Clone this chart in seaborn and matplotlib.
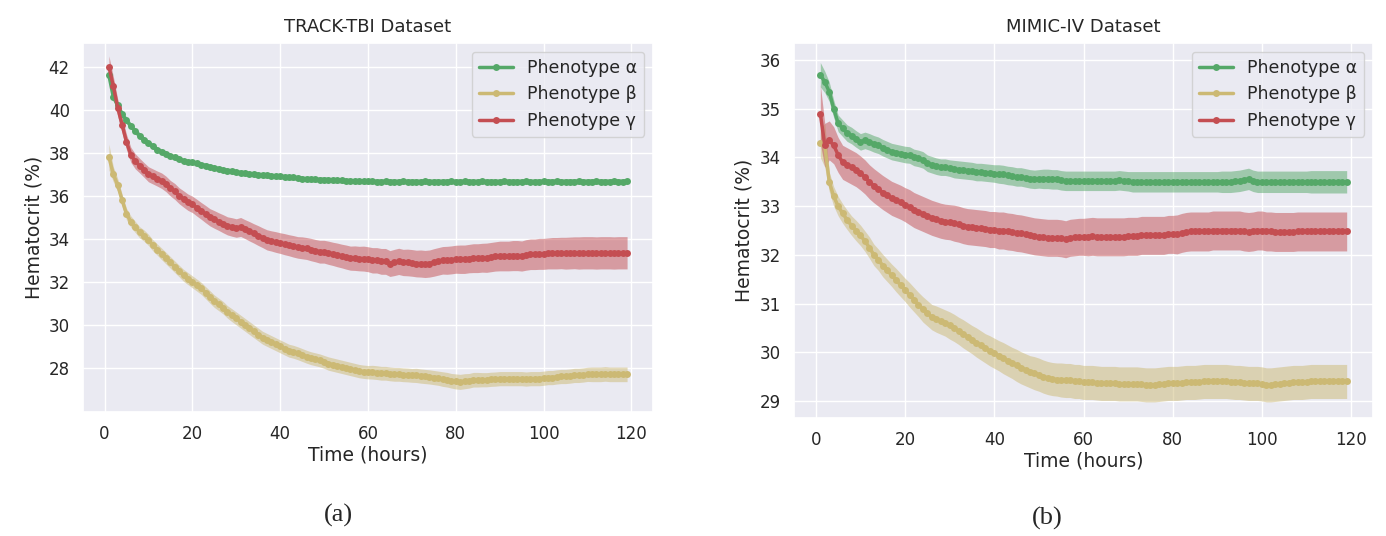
import numpy as np
import pandas as pd
import matplotlib
matplotlib.use("Agg")
import matplotlib.pyplot as plt
import seaborn as sns

hours = list(range(1, 120))
phenotypes = ["Phenotype α", "Phenotype β", "Phenotype γ"]
colors = ["#55A868", "#CCB974", "#C44E52"]

# ---------------- TRACK-TBI ----------------
tbi_alpha = [
    41.6, 40.6, 40.2, 39.8, 39.5, 39.25, 39.0, 38.8, 38.6, 38.45,
    38.3, 38.15, 38.05, 37.95, 37.85, 37.78, 37.7, 37.62, 37.58, 37.55,
    37.5, 37.45, 37.4, 37.35, 37.3, 37.25, 37.2, 37.17, 37.13, 37.1,
    37.07, 37.04, 37.02, 37.0, 36.98, 36.96, 36.95, 36.93, 36.91, 36.9,
    36.88, 36.86, 36.85, 36.83, 36.8, 36.78, 36.77, 36.76, 36.75, 36.75,
    36.74, 36.73, 36.72, 36.71, 36.7, 36.69, 36.68, 36.68, 36.67, 36.67,
    36.67, 36.66, 36.66, 36.67, 36.66, 36.66, 36.66, 36.67, 36.66, 36.66,
    36.66, 36.66, 36.67, 36.66, 36.66, 36.66, 36.66, 36.66, 36.67, 36.66,
    36.66, 36.67, 36.66, 36.66, 36.66, 36.67, 36.66, 36.66, 36.66, 36.66,
    36.67, 36.66, 36.66, 36.66, 36.66, 36.67, 36.66, 36.66, 36.66, 36.67,
    36.66, 36.66, 36.67, 36.66, 36.66, 36.66, 36.66, 36.67, 36.66, 36.66,
    36.66, 36.67, 36.66, 36.66, 36.66, 36.67, 36.66, 36.66, 36.67]
tbi_alpha_hw = [
    0.25, 0.2, 0.18, 0.17, 0.16, 0.15, 0.15, 0.14, 0.14, 0.14,
    0.14, 0.13, 0.13, 0.13, 0.13, 0.13, 0.13, 0.13, 0.13, 0.13,
    0.13, 0.13, 0.13, 0.13, 0.13, 0.13, 0.13, 0.13, 0.13, 0.13,
    0.13, 0.13, 0.13, 0.13, 0.13, 0.13, 0.13, 0.13, 0.13, 0.13,
    0.13, 0.13, 0.13, 0.13, 0.13, 0.13, 0.13, 0.13, 0.13, 0.13,
    0.13, 0.13, 0.13, 0.13, 0.13, 0.13, 0.13, 0.13, 0.13, 0.13,
    0.13, 0.13, 0.13, 0.13, 0.13, 0.13, 0.13, 0.13, 0.13, 0.13,
    0.13, 0.13, 0.13, 0.13, 0.13, 0.13, 0.13, 0.13, 0.13, 0.13,
    0.13, 0.13, 0.13, 0.13, 0.13, 0.13, 0.13, 0.13, 0.13, 0.13,
    0.13, 0.13, 0.13, 0.13, 0.13, 0.13, 0.13, 0.13, 0.13, 0.13,
    0.14, 0.14, 0.14, 0.14, 0.14, 0.14, 0.14, 0.14, 0.14, 0.14,
    0.14, 0.14, 0.14, 0.14, 0.14, 0.14, 0.14, 0.14, 0.14]
tbi_beta = [
    37.8, 37.0, 36.5, 35.8, 35.15, 34.8, 34.55, 34.3, 34.15, 33.95,
    33.7, 33.5, 33.3, 33.1, 32.9, 32.7, 32.5, 32.3, 32.15, 32.0,
    31.85, 31.7, 31.5, 31.3, 31.1, 30.95, 30.8, 30.6, 30.45, 30.3,
    30.15, 30.0, 29.85, 29.7, 29.55, 29.4, 29.3, 29.2, 29.1, 29.0,
    28.9, 28.8, 28.75, 28.68, 28.6, 28.52, 28.45, 28.4, 28.35, 28.28,
    28.2, 28.15, 28.1, 28.05, 28.0, 27.95, 27.9, 27.85, 27.82, 27.8,
    27.8, 27.78, 27.75, 27.75, 27.72, 27.7, 27.7, 27.68, 27.67, 27.65,
    27.65, 27.62, 27.6, 27.58, 27.55, 27.52, 27.48, 27.45, 27.4, 27.37,
    27.35, 27.38, 27.4, 27.45, 27.45, 27.45, 27.45, 27.47, 27.48, 27.5,
    27.5, 27.5, 27.5, 27.5, 27.5, 27.48, 27.5, 27.5, 27.5, 27.52,
    27.55, 27.55, 27.58, 27.6, 27.6, 27.62, 27.65, 27.65, 27.67, 27.7,
    27.7, 27.7, 27.7, 27.72, 27.7, 27.7, 27.7, 27.7, 27.7]
tbi_beta_hw = [
    0.6, 0.35, 0.3, 0.28, 0.27, 0.26, 0.26, 0.26, 0.26, 0.26,
    0.26, 0.26, 0.27, 0.27, 0.27, 0.27, 0.27, 0.28, 0.28, 0.28,
    0.28, 0.28, 0.28, 0.29, 0.29, 0.29, 0.29, 0.29, 0.3, 0.3,
    0.3, 0.3, 0.3, 0.3, 0.3, 0.3, 0.3, 0.3, 0.3, 0.3,
    0.3, 0.3, 0.3, 0.3, 0.3, 0.3, 0.3, 0.3, 0.3, 0.3,
    0.31, 0.31, 0.31, 0.31, 0.31, 0.31, 0.31, 0.31, 0.31, 0.31,
    0.32, 0.32, 0.32, 0.32, 0.32, 0.32, 0.32, 0.32, 0.32, 0.32,
    0.33, 0.33, 0.33, 0.33, 0.33, 0.33, 0.34, 0.34, 0.34, 0.35,
    0.35, 0.35, 0.34, 0.34, 0.34, 0.33, 0.33, 0.33, 0.33, 0.33,
    0.33, 0.33, 0.33, 0.33, 0.33, 0.33, 0.33, 0.33, 0.33, 0.33,
    0.33, 0.33, 0.33, 0.33, 0.33, 0.33, 0.33, 0.33, 0.33, 0.33,
    0.34, 0.34, 0.34, 0.34, 0.34, 0.34, 0.34, 0.34, 0.34]
tbi_gamma = [
    42.0, 41.1, 40.1, 39.3, 38.5, 37.9, 37.6, 37.4, 37.2, 37.0,
    36.9, 36.8, 36.7, 36.55, 36.35, 36.2, 36.0, 35.85, 35.7, 35.6,
    35.45, 35.3, 35.15, 35.0, 34.9, 34.8, 34.7, 34.6, 34.55, 34.5,
    34.55, 34.45, 34.35, 34.25, 34.15, 34.05, 33.95, 33.9, 33.85, 33.8,
    33.75, 33.7, 33.65, 33.6, 33.58, 33.55, 33.5, 33.45, 33.4, 33.4,
    33.35, 33.3, 33.25, 33.2, 33.15, 33.1, 33.1, 33.08, 33.08, 33.05,
    33.0, 33.0, 32.95, 32.95, 32.85, 32.9, 32.95, 32.9, 32.9, 32.88,
    32.85, 32.85, 32.83, 32.85, 32.9, 32.95, 33.0, 33.0, 33.02, 33.05,
    33.05, 33.05, 33.08, 33.1, 33.1, 33.12, 33.12, 33.15, 33.18, 33.2,
    33.2, 33.2, 33.22, 33.22, 33.2, 33.25, 33.28, 33.28, 33.3, 33.3,
    33.32, 33.33, 33.33, 33.34, 33.33, 33.34, 33.35, 33.34, 33.35, 33.35,
    33.35, 33.34, 33.35, 33.35, 33.35, 33.34, 33.35, 33.35, 33.35]
tbi_gamma_hw = [
    0.5, 0.45, 0.4, 0.38, 0.36, 0.35, 0.35, 0.34, 0.34, 0.35,
    0.35, 0.35, 0.36, 0.36, 0.36, 0.37, 0.37, 0.38, 0.38, 0.38,
    0.39, 0.39, 0.4, 0.4, 0.41, 0.41, 0.42, 0.42, 0.43, 0.43,
    0.44, 0.44, 0.45, 0.45, 0.46, 0.46, 0.47, 0.47, 0.48, 0.48,
    0.49, 0.49, 0.5, 0.5, 0.51, 0.51, 0.52, 0.52, 0.53, 0.53,
    0.54, 0.54, 0.55, 0.55, 0.56, 0.56, 0.57, 0.57, 0.58, 0.58,
    0.59, 0.59, 0.6, 0.6, 0.6, 0.61, 0.61, 0.61, 0.62, 0.62,
    0.62, 0.63, 0.63, 0.63, 0.64, 0.64, 0.64, 0.65, 0.65, 0.65,
    0.66, 0.66, 0.66, 0.67, 0.67, 0.67, 0.68, 0.68, 0.68, 0.69,
    0.69, 0.69, 0.7, 0.7, 0.7, 0.71, 0.71, 0.71, 0.72, 0.72,
    0.72, 0.73, 0.73, 0.73, 0.74, 0.74, 0.74, 0.75, 0.75, 0.75,
    0.75, 0.75, 0.75, 0.75, 0.75, 0.75, 0.75, 0.75, 0.75]

# ---------------- MIMIC-IV ----------------
mimic_alpha = [
    35.7, 35.55, 35.35, 35.0, 34.7, 34.6, 34.5, 34.45, 34.38, 34.32,
    34.35, 34.32, 34.28, 34.25, 34.2, 34.16, 34.12, 34.1, 34.08, 34.06,
    34.05, 34.0, 33.98, 33.95, 33.88, 33.85, 33.82, 33.8, 33.8, 33.78,
    33.76, 33.75, 33.74, 33.73, 33.72, 33.7, 33.7, 33.69, 33.68, 33.67,
    33.66, 33.65, 33.63, 33.62, 33.6, 33.6, 33.58, 33.56, 33.55, 33.56,
    33.56, 33.56, 33.55, 33.55, 33.53, 33.52, 33.52, 33.52, 33.52, 33.52,
    33.52, 33.52, 33.52, 33.52, 33.52, 33.52, 33.52, 33.53, 33.52, 33.51,
    33.5, 33.5, 33.5, 33.5, 33.5, 33.5, 33.5, 33.5, 33.5, 33.5,
    33.5, 33.5, 33.5, 33.5, 33.5, 33.5, 33.5, 33.5, 33.5, 33.5,
    33.5, 33.5, 33.5, 33.51, 33.52, 33.54, 33.56, 33.52, 33.5, 33.5,
    33.5, 33.5, 33.5, 33.5, 33.5, 33.5, 33.5, 33.5, 33.5, 33.5,
    33.5, 33.5, 33.5, 33.5, 33.5, 33.5, 33.5, 33.5, 33.5]
mimic_alpha_hw = [
    0.25, 0.22, 0.2, 0.18, 0.17, 0.17, 0.17, 0.17, 0.17, 0.17,
    0.17, 0.17, 0.17, 0.17, 0.17, 0.17, 0.17, 0.17, 0.17, 0.17,
    0.17, 0.17, 0.17, 0.17, 0.17, 0.17, 0.17, 0.17, 0.17, 0.17,
    0.18, 0.18, 0.18, 0.18, 0.18, 0.18, 0.18, 0.18, 0.18, 0.18,
    0.19, 0.19, 0.19, 0.19, 0.19, 0.19, 0.19, 0.19, 0.19, 0.19,
    0.2, 0.2, 0.2, 0.2, 0.2, 0.2, 0.2, 0.2, 0.2, 0.2,
    0.2, 0.2, 0.2, 0.2, 0.2, 0.2, 0.2, 0.2, 0.2, 0.2,
    0.21, 0.21, 0.21, 0.21, 0.21, 0.21, 0.21, 0.21, 0.21, 0.21,
    0.21, 0.21, 0.21, 0.21, 0.21, 0.21, 0.21, 0.21, 0.21, 0.21,
    0.22, 0.22, 0.22, 0.22, 0.22, 0.22, 0.22, 0.22, 0.22, 0.22,
    0.22, 0.22, 0.22, 0.22, 0.22, 0.22, 0.22, 0.22, 0.22, 0.22,
    0.23, 0.23, 0.23, 0.23, 0.23, 0.23, 0.23, 0.23, 0.23]
mimic_beta = [
    34.3, 34.25, 33.5, 33.2, 33.0, 32.85, 32.72, 32.6, 32.5, 32.4,
    32.28, 32.15, 32.0, 31.9, 31.78, 31.68, 31.58, 31.48, 31.38, 31.28,
    31.18, 31.08, 30.98, 30.88, 30.8, 30.72, 30.68, 30.64, 30.6, 30.55,
    30.5, 30.44, 30.38, 30.32, 30.26, 30.2, 30.14, 30.08, 30.03, 29.98,
    29.93, 29.88, 29.83, 29.78, 29.73, 29.68, 29.64, 29.6, 29.57, 29.54,
    29.5, 29.47, 29.45, 29.44, 29.43, 29.42, 29.42, 29.4, 29.4, 29.38,
    29.38, 29.38, 29.37, 29.36, 29.36, 29.36, 29.36, 29.35, 29.35, 29.35,
    29.35, 29.35, 29.34, 29.33, 29.33, 29.33, 29.34, 29.35, 29.36, 29.36,
    29.36, 29.37, 29.38, 29.38, 29.38, 29.39, 29.4, 29.4, 29.4, 29.4,
    29.4, 29.4, 29.39, 29.38, 29.38, 29.37, 29.36, 29.36, 29.36, 29.35,
    29.33, 29.33, 29.34, 29.35, 29.36, 29.37, 29.38, 29.38, 29.38, 29.39,
    29.4, 29.4, 29.4, 29.4, 29.4, 29.4, 29.4, 29.4, 29.4]
mimic_beta_hw = [
    0.3, 0.45, 0.2, 0.2, 0.2, 0.2, 0.2, 0.2, 0.21, 0.21,
    0.21, 0.22, 0.22, 0.22, 0.23, 0.23, 0.23, 0.24, 0.24, 0.24,
    0.25, 0.25, 0.25, 0.26, 0.26, 0.26, 0.27, 0.27, 0.27, 0.28,
    0.28, 0.28, 0.29, 0.29, 0.29, 0.3, 0.3, 0.3, 0.31, 0.31,
    0.31, 0.32, 0.32, 0.32, 0.33, 0.33, 0.33, 0.33, 0.34, 0.34,
    0.34, 0.34, 0.34, 0.34, 0.35, 0.35, 0.35, 0.35, 0.35, 0.35,
    0.35, 0.35, 0.35, 0.35, 0.35, 0.35, 0.35, 0.35, 0.35, 0.35,
    0.35, 0.35, 0.35, 0.35, 0.35, 0.35, 0.35, 0.35, 0.35, 0.35,
    0.35, 0.35, 0.35, 0.35, 0.35, 0.35, 0.35, 0.35, 0.35, 0.35,
    0.35, 0.35, 0.35, 0.35, 0.35, 0.35, 0.35, 0.35, 0.35, 0.35,
    0.35, 0.35, 0.35, 0.35, 0.35, 0.35, 0.35, 0.35, 0.35, 0.35,
    0.35, 0.35, 0.35, 0.35, 0.35, 0.35, 0.35, 0.35, 0.35]
mimic_gamma = [
    34.9, 34.25, 34.35, 34.25, 34.05, 33.9, 33.85, 33.8, 33.75, 33.68,
    33.6, 33.5, 33.42, 33.35, 33.28, 33.22, 33.16, 33.12, 33.08, 33.03,
    32.98, 32.92, 32.88, 32.84, 32.8, 32.76, 32.73, 32.7, 32.68, 32.67,
    32.65, 32.63, 32.6, 32.58, 32.57, 32.56, 32.55, 32.54, 32.52, 32.52,
    32.5, 32.5, 32.48, 32.47, 32.45, 32.44, 32.42, 32.4, 32.38, 32.37,
    32.36, 32.35, 32.35, 32.35, 32.34, 32.32, 32.35, 32.36, 32.37, 32.37,
    32.37, 32.38, 32.37, 32.37, 32.37, 32.37, 32.37, 32.37, 32.37, 32.38,
    32.38, 32.38, 32.4, 32.4, 32.4, 32.4, 32.4, 32.4, 32.42, 32.42,
    32.42, 32.45, 32.47, 32.48, 32.48, 32.48, 32.48, 32.48, 32.5, 32.5,
    32.5, 32.5, 32.5, 32.5, 32.5, 32.48, 32.47, 32.48, 32.5, 32.5,
    32.48, 32.48, 32.47, 32.47, 32.47, 32.47, 32.47, 32.48, 32.48, 32.48,
    32.48, 32.48, 32.48, 32.48, 32.48, 32.48, 32.48, 32.48, 32.48]
mimic_gamma_hw = [
    0.6, 0.45, 0.4, 0.38, 0.36, 0.35, 0.35, 0.35, 0.35, 0.35,
    0.35, 0.35, 0.35, 0.35, 0.35, 0.35, 0.35, 0.35, 0.35, 0.35,
    0.36, 0.36, 0.36, 0.36, 0.36, 0.36, 0.36, 0.36, 0.36, 0.36,
    0.37, 0.37, 0.37, 0.37, 0.37, 0.37, 0.37, 0.37, 0.37, 0.37,
    0.38, 0.38, 0.38, 0.38, 0.38, 0.38, 0.38, 0.38, 0.38, 0.38,
    0.38, 0.38, 0.38, 0.38, 0.38, 0.38, 0.38, 0.38, 0.38, 0.38,
    0.39, 0.39, 0.39, 0.39, 0.39, 0.39, 0.39, 0.39, 0.39, 0.39,
    0.39, 0.39, 0.39, 0.39, 0.39, 0.39, 0.39, 0.39, 0.39, 0.39,
    0.4, 0.4, 0.4, 0.4, 0.4, 0.4, 0.4, 0.4, 0.4, 0.4,
    0.4, 0.4, 0.4, 0.4, 0.4, 0.4, 0.4, 0.4, 0.4, 0.4,
    0.4, 0.4, 0.4, 0.4, 0.4, 0.4, 0.4, 0.4, 0.4, 0.4,
    0.4, 0.4, 0.4, 0.4, 0.4, 0.4, 0.4, 0.4, 0.4]

sns.set_theme(style="darkgrid")
plt.rcParams["font.family"] = ["DejaVu Sans"]

fig = plt.figure(figsize=(13.86, 5.36), dpi=100)
ax1 = fig.add_axes([83 / 1386, 1 - 412 / 536, 570 / 1386, 369 / 536])
ax2 = fig.add_axes([794 / 1386, 1 - 418 / 536, 579 / 1386, 375 / 536])


def draw(ax, means, hws, title, ylim, yticks):
    frames = []
    for name, m in zip(phenotypes, means):
        frames.append(pd.DataFrame({"Time": hours, "Hct": m, "Phenotype": name}))
    df = pd.concat(frames, ignore_index=True)
    for name, m, hw, c in zip(phenotypes, means, hws, colors):
        m = np.array(m)
        hw = np.array(hw)
        ax.fill_between(hours, m - hw, m + hw, color=c, alpha=0.5, linewidth=0)
    sns.lineplot(data=df, x="Time", y="Hct", hue="Phenotype", hue_order=phenotypes,
                 palette=colors, marker="o", markersize=5, markeredgewidth=0,
                 linewidth=2.5, errorbar=None, ax=ax)
    ax.set_title(title, fontsize=13, pad=8)
    ax.set_xlabel("Time (hours)", fontsize=13.5, labelpad=2)
    ax.set_ylabel("Hematocrit (%)", fontsize=13.5)
    ax.set_xlim(-4.9, 124.9)
    ax.set_ylim(*ylim)
    ax.set_xticks([0, 20, 40, 60, 80, 100, 120])
    ax.set_yticks(yticks)
    ax.tick_params(labelsize=12)
    leg = ax.legend(loc="upper right", fontsize=12.5, frameon=True)
    leg.get_frame().set_facecolor("#EAEAF2")


draw(ax1, [tbi_alpha, tbi_beta, tbi_gamma], [tbi_alpha_hw, tbi_beta_hw, tbi_gamma_hw],
     "TRACK-TBI Dataset", (25.95, 43.1), [28, 30, 32, 34, 36, 38, 40, 42])
draw(ax2, [mimic_alpha, mimic_beta, mimic_gamma], [mimic_alpha_hw, mimic_beta_hw, mimic_gamma_hw],
     "MIMIC-IV Dataset", (28.65, 36.35), [29, 30, 31, 32, 33, 34, 35, 36])

fig.text(338 / 1386, 1 - 515 / 536, "(a)", ha="center", va="center",
         fontsize=19, family="Liberation Serif")
fig.text(1047 / 1386, 1 - 518 / 536, "(b)", ha="center", va="center",
         fontsize=19, family="Liberation Serif")

fig.savefig("out.png", dpi=100)
